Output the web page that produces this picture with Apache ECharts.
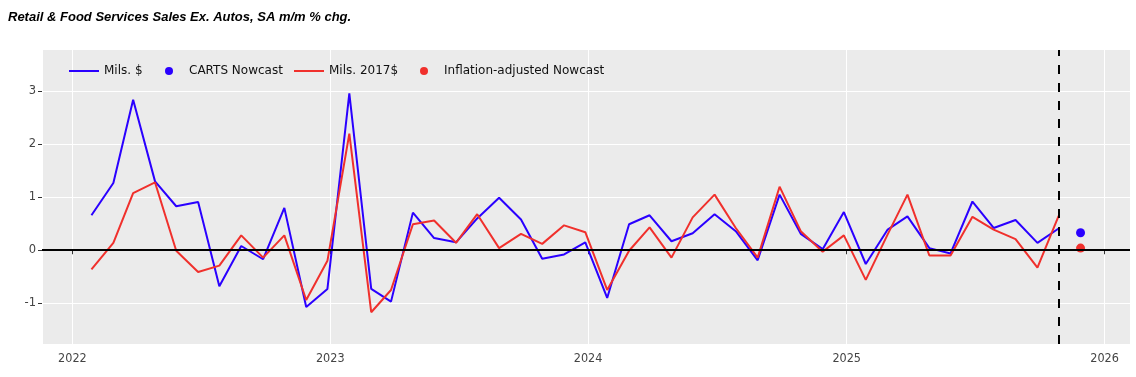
<!DOCTYPE html>
<html><head><meta charset="utf-8">
<script src="https://cdn.jsdelivr.net/npm/echarts@6/dist/echarts.min.js"></script>
<style>html,body{margin:0;padding:0;background:#fff}#c{width:1136px;height:377px}</style>
</head><body><div id="c"></div>
<script>
// ---- data ----
const chartTitle = 'Retail & Food Services Sales Ex. Autos, SA m/m % chg.';
const seriesNames = ['Mils. $', 'CARTS Nowcast', 'Mils. 2017$', 'Inflation-adjusted Nowcast'];
const firstMonth = [2022, 1];      // Jan 2022
const obsDay = 28;                 // day of month each observation is plotted at
const milsDollars = [
  0.66, 1.27, 2.84, 1.30, 0.83, 0.91, -0.68, 0.08, -0.17, 0.80, -1.07, -0.73,
  2.96, -0.73, -0.97, 0.71, 0.23, 0.15, 0.60, 0.99, 0.58, -0.16, -0.08, 0.15,
  -0.90, 0.49, 0.66, 0.17, 0.32, 0.68, 0.36, -0.19, 1.05, 0.31, 0.02, 0.72,
  -0.26, 0.39, 0.64, 0.04, -0.06, 0.92, 0.42, 0.57, 0.14, 0.41
];
const mils2017 = [
  -0.36, 0.14, 1.08, 1.28, -0.01, -0.41, -0.29, 0.28, -0.14, 0.28, -0.94, -0.20,
  2.20, -1.17, -0.75, 0.49, 0.56, 0.14, 0.68, 0.04, 0.31, 0.12, 0.47, 0.34,
  -0.75, -0.01, 0.43, -0.14, 0.62, 1.05, 0.42, -0.14, 1.20, 0.36, -0.03, 0.28,
  -0.56, 0.30, 1.05, -0.10, -0.10, 0.63, 0.39, 0.21, -0.33, 0.65
];
const nowcastMonth = '2025-11';
const cartsNowcast = [0.33];
const inflAdjNowcast = [0.04];
const yTickValues = [-1, 0, 1, 2, 3];

// ---- build ----
const pad = n => String(n).padStart(2, '0');
const months = milsDollars.map((_, i) => {
  const t = firstMonth[0] * 12 + (firstMonth[1] - 1) + i;
  return Math.floor(t / 12) + '-' + pad(t % 12 + 1);
});
const toDate = m => m + '-' + pad(obsDay);
const dates = months.map(toDate);
const lastDate = dates[dates.length - 1];
const nowDate = toDate(nowcastMonth);
const YEAR = 365 * 864e5;

const BLUE = '#2a00ff', RED = '#f0302c';
const tickFont = 'DejaVu Sans';

const legendLefts = [63, 160, 288, 415];
const legends = seriesNames.map((name, i) => ({
  left: legendLefts[i], top: 60, itemWidth: 30, itemHeight: 8, itemGap: 0,
  data: [i % 2 === 0 ? {name, itemStyle: {opacity: 0}} : {name}],
  selectedMode: false,
  textStyle: {fontFamily: tickFont, fontSize: 12, color: '#111'}
}));

const chart = echarts.init(document.getElementById('c'), null, {renderer: 'canvas'});
chart.setOption({
  animation: false,
  backgroundColor: '#ffffff',
  title: {
    text: chartTitle, left: 3, top: 6,
    textStyle: {fontFamily: 'Liberation Sans', fontSize: 13, fontWeight: 'bold', fontStyle: 'italic', color: '#000'}
  },
  legend: legends,
  grid: {left: 42, right: 6, top: 50, bottom: 33, show: true, backgroundColor: '#ebebeb', borderWidth: 0, containLabel: false},
  xAxis: {
    type: 'time', min: '2021-11-19', max: '2026-02-06', splitNumber: 4,
    minInterval: YEAR, maxInterval: YEAR + 864e5,
    axisLine: {show: false},
    axisTick: {show: true, length: 4, lineStyle: {color: '#333'}},
    axisLabel: {formatter: v => String(new Date(v).getFullYear()), margin: 8,
      showMinLabel: false, showMaxLabel: false,
      fontFamily: 'DejaVu Sans Condensed', fontSize: 12.5, color: '#444'},
    splitLine: {show: true, lineStyle: {color: '#ffffff', width: 1}}
  },
  yAxis: {
    type: 'value', min: -1.77, max: 3.78,
    axisLine: {show: false},
    axisTick: {show: true, length: 4, lineStyle: {color: '#333'}, customValues: yTickValues},
    axisLabel: {customValues: yTickValues, margin: 6, fontFamily: tickFont, fontSize: 11.5, color: '#444'},
    splitLine: {show: true, lineStyle: {color: '#ffffff', width: 1}}
  },
  series: [
    {
      name: seriesNames[0], type: 'line', symbol: 'none', z: 3,
      lineStyle: {color: BLUE, width: 2}, itemStyle: {color: BLUE},
      data: dates.map((d, i) => [d, milsDollars[i]]),
      markLine: {
        silent: true, symbol: 'none', label: {show: false}, animation: false,
        data: [
          {yAxis: 0, lineStyle: {color: '#000', width: 2, type: 'solid'}},
          {xAxis: lastDate, lineStyle: {color: '#000', width: 2, type: [9, 9]}}
        ]
      }
    },
    {
      name: seriesNames[1], type: 'scatter', symbol: 'circle', symbolSize: 9, z: 4,
      itemStyle: {color: BLUE, opacity: 1},
      data: cartsNowcast.map(v => [nowDate, v])
    },
    {
      name: seriesNames[2], type: 'line', symbol: 'none', z: 3,
      lineStyle: {color: RED, width: 2}, itemStyle: {color: RED},
      data: dates.map((d, i) => [d, mils2017[i]])
    },
    {
      name: seriesNames[3], type: 'scatter', symbol: 'circle', symbolSize: 9, z: 4,
      itemStyle: {color: RED, opacity: 1},
      data: inflAdjNowcast.map(v => [nowDate, v])
    }
  ]
});
</script>
</body></html>
